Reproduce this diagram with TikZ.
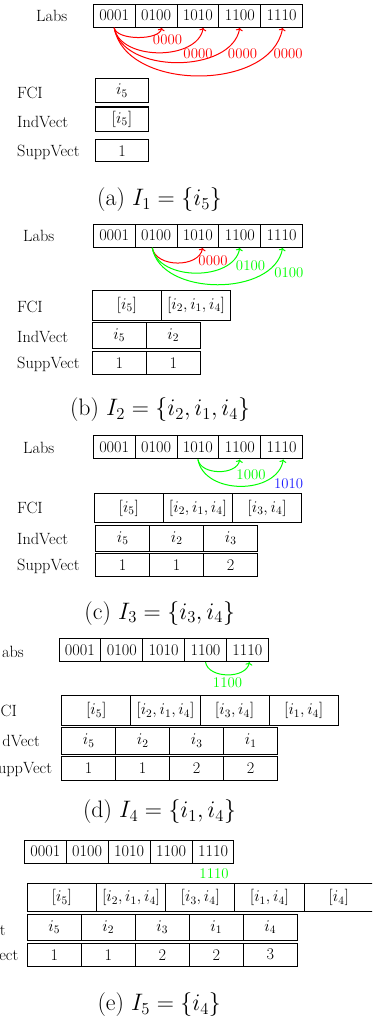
\RequirePackage{fix-cm}
\documentclass[tikz,border=0pt]{standalone}
\usetikzlibrary{arrows.meta}
\definecolor{rd}{RGB}{255,0,0}
\definecolor{gr}{RGB}{0,255,0}
\definecolor{bl}{RGB}{30,30,255}
\newcommand{\bodyf}{\fontsize{16.3}{19}\selectfont}
\newcommand{\labf}{\fontsize{14.8}{17}\selectfont}
\newcommand{\capf}{\fontsize{23.8}{28}\selectfont}
\newcommand{\labsrow}[3]{\foreach \t [count=\k from 0] in {0001,0100,1010,1100,1110}
  \node[labcell] (#1\k) at ({#2+41.85*(\k+0.5)},{-#3}) {\t};}
\newcommand{\cellrow}[6]{\foreach \t [count=\k from 0] in {#6}
  \node[rowcell, minimum width=#3pt, minimum height=#5pt] (#1\k) at ({#2+#3*(\k+0.5)},{-#4}) {\t};}
\begin{document}
\begin{tikzpicture}[x=1pt,y=1pt,
  labcell/.style={draw, line width=1pt, inner sep=0pt, minimum width=41.85pt, minimum height=23.3pt, font=\bodyf},
  rowcell/.style={draw, line width=1pt, inner sep=0pt, font=\bodyf},
  rowlab/.style={anchor=west, inner sep=0pt, font=\bodyf, text height=11.1pt, text depth=0pt},
  cutlab/.style={anchor=east, inner sep=0pt, font=\bodyf, text height=11.1pt, text depth=0pt},
  arrlab/.style={inner sep=0pt, font=\labf},
  capt/.style={inner sep=0pt, font=\capf},
  arr/.style={line width=1pt, -{To[length=3pt,width=7pt]}}]
\useasboundingbox (0,0) rectangle (372,-1019);
\clip (0,0) rectangle (372,-1019);

% ---------------- panel (a)
\node[rowlab] (labsA) at (36,-16) {Labs};
\labsrow{A}{93.3}{15.7}
\draw[arr, rd] (A0.south) to[out=-80,in=-100,looseness=0.7] ([xshift=5.6pt]A1.south);
\draw[arr, rd] (A0.south) to[out=-80,in=-100,looseness=0.97] ([xshift=5.3pt]A2.south);
\draw[arr, rd] (A0.south) to[out=-80,in=-100,looseness=0.96] (A3.south);
\draw[arr, rd] (A0.south) to[out=-80,in=-100,looseness=0.99] ([xshift=1pt]A4.south);
\node[arrlab, rd] (la1) at (167.5,-40) {0000};
\node[arrlab, rd] (la2) at (198,-54) {0000};
\node[arrlab, rd] (la3) at (242.5,-54) {0000};
\node[arrlab, rd] (la4) at (288,-54) {0000};
\node[rowlab] (fciA) at (17,-93) {FCI};
\node[rowlab] (indA) at (17,-121.5) {IndVect};
\node[rowlab] (supA) at (17,-150.5) {SuppVect};
\cellrow{FA}{95.7}{52.6}{90.5}{24}{{$i_5$}}
\cellrow{IA}{95.7}{52.6}{119}{25}{{$[i_5]$}}
\draw[line width=0.5pt] ([shift={(1pt,-1pt)}]IA0.north west) -- ([shift={(-1pt,-1pt)}]IA0.north east);
\cellrow{SA}{95.7}{52.6}{151}{22}{1}
\node[capt] (capA) at (159.5,-200) {(a) $I_1 = \{i_5\}$};

% ---------------- panel (b)
\node[rowlab] (labsB) at (23,-236) {Labs};
\labsrow{B}{93.3}{235.7}
\draw[arr, rd] ([xshift=-3.8pt]B1.south) to[out=-80,in=-100,looseness=1.04] ([xshift=4.7pt]B2.south);
\draw[arr, gr] ([xshift=-3.8pt]B1.south) to[out=-80,in=-100,looseness=1.0] (B3.south);
\draw[arr, gr] ([xshift=-3.8pt]B1.south) to[out=-80,in=-100,looseness=0.98] ([xshift=1pt]B4.south);
\node[arrlab, rd] (lb1) at (213,-260.5) {0000};
\node[arrlab, gr] (lb2) at (250.5,-266) {0100};
\node[arrlab, gr] (lb3) at (288.8,-272.3) {0100};
\node[rowlab] (fciB) at (17,-306.7) {FCI};
\node[rowlab] (indB) at (17,-336.7) {IndVect};
\node[rowlab] (supB) at (17,-362.7) {SuppVect};
\cellrow{FB}{92.3}{69.2}{305.4}{29.3}{{$[i_5]$},{$[i_2,i_1,i_4]$}}
\cellrow{IB}{92.3}{54}{335.3}{26}{{$i_5$},{$i_2$}}
\cellrow{SB}{92.3}{54}{363}{22.6}{1,1}
\node[capt] (capB) at (160,-410) {(b) $I_2 = \{i_2, i_1, i_4\}$};

% ---------------- panel (c)
\node[rowlab] (labsC) at (23,-448.3) {Labs};
\labsrow{C}{93.3}{447.3}
\draw[arr, gr] (C2.south) to[out=-80,in=-100,looseness=1.0] (C3.south);
\draw[arr, gr] (C2.south) to[out=-80,in=-100,looseness=1.09] ([xshift=1.7pt]C4.south);
\node[arrlab, gr] (lc1) at (251,-475) {1000};
\node[arrlab, bl] (lc2) at (288.5,-483.3) {1010};
\node[rowlab] (fciC) at (17,-508.3) {FCI};
\node[rowlab] (indC) at (17,-539) {IndVect};
\node[rowlab] (supC) at (17,-565) {SuppVect};
\cellrow{FC}{94.3}{69.1}{508}{29.4}{{$[i_5]$},{$[i_2,i_1,i_4]$},{$[i_3,i_4]$}}
\cellrow{IC}{95.7}{54}{538.2}{25.7}{{$i_5$},{$i_2$},{$i_3$}}
\cellrow{SC}{95.7}{54}{565.3}{22.7}{1,1,2}
\node[capt] (capC) at (159.7,-613.3) {(c) $I_3 = \{i_3, i_4\}$};

% ---------------- panel (d)  (labels cut by the left edge)
\node[cutlab] (labsD) at (24,-652) {abs};
\foreach \t [count=\k from 0] in {0001,0100,1010,1100,1110}
  \node[labcell] (D\k) at ({59+41.86*(\k+0.5)},-650) {\t};
\draw[arr, gr] (D3.south) to[out=-80,in=-100,looseness=1.0] ([xshift=2pt]D4.south);
\node[arrlab, gr] (ld1) at (227.5,-682.5) {1100};
\node[rowlab] (fciD) at (0.5,-710.5) {CI};
\node[cutlab] (indD) at (40,-741) {dVect};
\node[cutlab] (supD) at (52.3,-767.7) {uppVect};
\cellrow{FD}{61.7}{69.15}{710.7}{30}{{$[i_5]$},{$[i_2,i_1,i_4]$},{$[i_3,i_4]$},{$[i_1,i_4]$}}
\cellrow{ID}{61.7}{54}{740.7}{26.7}{{$i_5$},{$i_2$},{$i_3$},{$i_1$}}
\cellrow{SD}{61.7}{54}{768}{24}{1,1,2,2}
\node[capt] (capD) at (159.5,-811.7) {(d) $I_4 = \{i_1, i_4\}$};

% ---------------- panel (e)
\foreach \t [count=\k from 0] in {0001,0100,1010,1100,1110}
  \node[labcell] (E\k) at ({24.3+41.94*(\k+0.5)},-851.7) {\t};
\node[arrlab, gr] (le1) at (214,-873.3) {1110};
\node[cutlab] (indE) at (5.8,-930) {t};
\node[cutlab] (supE) at (18.5,-955) {ect};
\cellrow{FE}{27.3}{69.2}{897.5}{28.4}{{$[i_5]$},{$[i_2,i_1,i_4]$},{$[i_3,i_4]$},{$[i_1,i_4]$},{$[i_4]$}}
\cellrow{IE}{27.3}{54}{927.2}{25.7}{{$i_5$},{$i_2$},{$i_3$},{$i_1$},{$i_4$}}
\cellrow{SE}{27.3}{54}{954.7}{22.7}{1,1,2,2,3}
\node[capt] (capE) at (159.2,-1005) {(e) $I_5 = \{i_4\}$};
\end{tikzpicture}
\end{document}
